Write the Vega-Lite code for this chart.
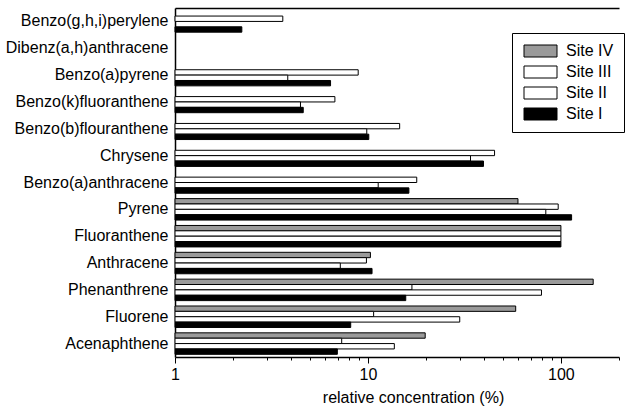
{
  "$schema": "https://vega.github.io/schema/vega-lite/v6.json",
  "width": 444,
  "height": 349,
  "padding": {"left": 5, "top": 8, "right": 5, "bottom": 5},
  "background": "white",
  "config": {
    "view": {"stroke": null},
    "font": "Liberation Sans",
    "axis": {"labelFont": "Liberation Sans", "titleFont": "Liberation Sans", "labelColor": "black", "titleColor": "black", "domainColor": "black", "tickColor": "black", "grid": false},
    "legend": {"labelFont": "Liberation Sans", "labelColor": "black"}
  },
  "data": {
    "values": [
      {"compound": "Benzo(g,h,i)perylene", "site": "Site III", "value": 3.62},
      {"compound": "Benzo(g,h,i)perylene", "site": "Site I", "value": 2.22},
      {"compound": "Benzo(a)pyrene", "site": "Site III", "value": 8.9},
      {"compound": "Benzo(a)pyrene", "site": "Site II", "value": 3.84},
      {"compound": "Benzo(a)pyrene", "site": "Site I", "value": 6.4},
      {"compound": "Benzo(k)fluoranthene", "site": "Site III", "value": 6.74},
      {"compound": "Benzo(k)fluoranthene", "site": "Site II", "value": 4.47},
      {"compound": "Benzo(k)fluoranthene", "site": "Site I", "value": 4.62},
      {"compound": "Benzo(b)flouranthene", "site": "Site III", "value": 14.6},
      {"compound": "Benzo(b)flouranthene", "site": "Site II", "value": 9.86},
      {"compound": "Benzo(b)flouranthene", "site": "Site I", "value": 10.1},
      {"compound": "Chrysene", "site": "Site III", "value": 45.3},
      {"compound": "Chrysene", "site": "Site II", "value": 34.0},
      {"compound": "Chrysene", "site": "Site I", "value": 39.7},
      {"compound": "Benzo(a)anthracene", "site": "Site III", "value": 17.9},
      {"compound": "Benzo(a)anthracene", "site": "Site II", "value": 11.3},
      {"compound": "Benzo(a)anthracene", "site": "Site I", "value": 16.3},
      {"compound": "Pyrene", "site": "Site IV", "value": 59.9},
      {"compound": "Pyrene", "site": "Site III", "value": 96.8},
      {"compound": "Pyrene", "site": "Site II", "value": 83.5},
      {"compound": "Pyrene", "site": "Site I", "value": 113.6},
      {"compound": "Fluoranthene", "site": "Site IV", "value": 100},
      {"compound": "Fluoranthene", "site": "Site III", "value": 100},
      {"compound": "Fluoranthene", "site": "Site II", "value": 100},
      {"compound": "Fluoranthene", "site": "Site I", "value": 100},
      {"compound": "Anthracene", "site": "Site IV", "value": 10.3},
      {"compound": "Anthracene", "site": "Site III", "value": 9.82},
      {"compound": "Anthracene", "site": "Site II", "value": 7.19},
      {"compound": "Anthracene", "site": "Site I", "value": 10.5},
      {"compound": "Phenanthrene", "site": "Site IV", "value": 147},
      {"compound": "Phenanthrene", "site": "Site III", "value": 16.9},
      {"compound": "Phenanthrene", "site": "Site II", "value": 79.3},
      {"compound": "Phenanthrene", "site": "Site I", "value": 15.7},
      {"compound": "Fluorene", "site": "Site IV", "value": 58.3},
      {"compound": "Fluorene", "site": "Site III", "value": 10.7},
      {"compound": "Fluorene", "site": "Site II", "value": 29.9},
      {"compound": "Fluorene", "site": "Site I", "value": 8.14},
      {"compound": "Acenaphthene", "site": "Site IV", "value": 19.8},
      {"compound": "Acenaphthene", "site": "Site III", "value": 7.31},
      {"compound": "Acenaphthene", "site": "Site II", "value": 13.7},
      {"compound": "Acenaphthene", "site": "Site I", "value": 6.94}
    ]
  },
  "encoding": {
    "y": {
      "field": "compound", "type": "nominal",
      "scale": {
        "domain": ["Benzo(g,h,i)perylene", "Dibenz(a,h)anthracene", "Benzo(a)pyrene", "Benzo(k)fluoranthene", "Benzo(b)flouranthene", "Chrysene", "Benzo(a)anthracene", "Pyrene", "Fluoranthene", "Anthracene", "Phenanthrene", "Fluorene", "Acenaphthene"],
        "paddingInner": 0.2, "paddingOuter": 0.1
      },
      "axis": {"title": null, "ticks": false, "labelFontSize": 16, "labelPadding": 7, "domainWidth": 1.5}
    },
    "yOffset": {"field": "site", "type": "nominal", "scale": {"domain": ["Site IV", "Site III", "Site II", "Site I"]}}
  },
  "layer": [
    {
      "mark": {"type": "bar", "stroke": "black", "strokeWidth": 1},
      "encoding": {
        "x": {
          "field": "value", "type": "quantitative", "stack": null,
          "scale": {"type": "log", "domain": [1, 200], "nice": false},
          "axis": {
            "title": "relative concentration (%)", "titleFontSize": 16, "titleFontWeight": "normal",
            "titleX": 238, "titleY": 40, "titleBaseline": "middle", "titleAlign": "center",
            "values": [1, 2, 3, 4, 5, 6, 7, 8, 9, 10, 20, 30, 40, 50, 60, 70, 80, 90, 100, 200],
            "labelExpr": "datum.value == 1 || datum.value == 10 || datum.value == 100 ? format(datum.value, 'd') : ''",
            "labelFontSize": 16, "labelPadding": 3, "labelFlush": false,
            "tickSize": {"condition": {"test": "datum.value == 1 || datum.value == 10 || datum.value == 100", "value": 6}, "value": 3},
            "domainWidth": 1.5
          }
        },
        "fill": {
          "field": "site", "type": "nominal",
          "scale": {"domain": ["Site IV", "Site III", "Site II", "Site I"], "range": ["#9a9a9a", "white", "white", "black"]},
          "legend": {
            "title": null, "orient": "none", "legendX": 337, "legendY": 25,
            "strokeColor": "black", "fillColor": "white", "padding": 10,
            "symbolType": "M-1,-1H4.5V1H-1Z", "symbolSize": 144,
            "symbolStrokeColor": "black", "symbolStrokeWidth": 1,
            "labelFontSize": 16, "rowPadding": 5, "labelOffset": 28
          }
        }
      }
    },
    {
      "mark": {"type": "bar", "opacity": 0},
      "encoding": {
        "x": {"field": "value", "type": "quantitative", "stack": null, "axis": {"orient": "top", "labels": false, "ticks": false, "title": null, "domainWidth": 1.5}}
      }
    }
  ],
  "resolve": {"axis": {"x": "independent"}}
}
